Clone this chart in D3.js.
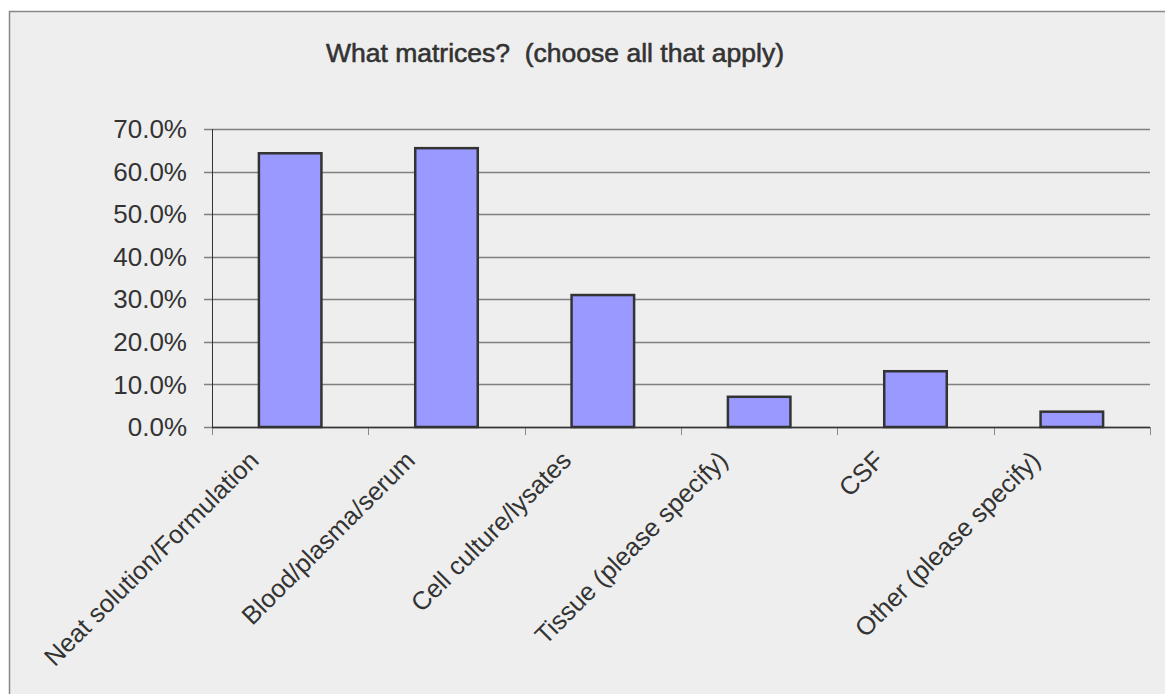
<!DOCTYPE html>
<html>
<head>
<meta charset="utf-8">
<script src="https://cdn.jsdelivr.net/npm/d3@7"></script>
<style>
  body { margin: 0; background: #fff; }
  text { font-family: "Liberation Sans", Arial, sans-serif; fill: #333; }
</style>
</head>
<body>
<div id="chart"></div>
<script>
// data
var categories = ["Neat solution/Formulation", "Blood/plasma/serum", "Cell culture/lysates",
                  "Tissue (please specify)", "CSF", "Other (please specify)"];
var values = [64.3, 65.5, 31.0, 7.1, 13.1, 3.6];
var yTicks = [0, 10, 20, 30, 40, 50, 60, 70];
var title = "What matrices?  (choose all that apply)";

var W = 1165, H = 694;
var margin = {top: 129, right: 15, bottom: 267, left: 212},
    width = W - margin.left - margin.right,
    height = H - margin.top - margin.bottom;

var root = d3.select("#chart")
  .append("svg")
    .attr("width", W)
    .attr("height", H);

// panel background + border
root.append("rect")
  .attr("x", 9.5).attr("y", 11.5)
  .attr("width", W).attr("height", H)
  .attr("fill", "#eeeeee")
  .attr("stroke", "#888")
  .attr("stroke-width", 1.5);

root.append("text")
  .attr("x", 555)
  .attr("y", 62)
  .attr("text-anchor", "middle")
  .style("font-size", "26.5px")
  .style("white-space", "pre")
  .style("stroke", "#333").style("stroke-width", 0.6)
  .text(title);

var svg = root.append("g")
  .attr("transform", `translate(${margin.left}, ${margin.top})`);

var x = d3.scaleBand()
  .range([0, width])
  .domain(categories)
  .paddingInner(0.6)
  .paddingOuter(0.3);

var xTick = d3.scalePoint()
  .range([0, width])
  .domain(d3.range(categories.length + 1));

var y = d3.scaleLinear()
  .domain([0, 70])
  .range([height, 0]);

// gridlines + y ticks
svg.append("g")
  .selectAll("line")
  .data(yTicks)
  .join("line")
    .attr("x1", -8)
    .attr("x2", width)
    .attr("y1", d => Math.round(y(d)) + 0.5)
    .attr("y2", d => Math.round(y(d)) + 0.5)
    .attr("stroke", "#808080")
    .attr("stroke-width", 1.3);

svg.append("g")
  .selectAll("text")
  .data(yTicks)
  .join("text")
    .attr("x", -25)
    .attr("y", d => y(d))
    .attr("dy", "0.35em")
    .attr("text-anchor", "end")
    .style("font-size", "26px")
    .text(d => d3.format(".1f")(d) + "%");

// category ticks
svg.append("g")
  .selectAll("line")
  .data(xTick.domain())
  .join("line")
    .attr("x1", d => Math.round(xTick(d)) + 0.5)
    .attr("x2", d => Math.round(xTick(d)) + 0.5)
    .attr("y1", height)
    .attr("y2", height + 8)
    .attr("stroke", "#888");

// axis lines
svg.append("line")
  .attr("x1", 0.5).attr("x2", 0.5)
  .attr("y1", 0).attr("y2", height)
  .attr("stroke", "#333");
svg.append("line")
  .attr("x1", 0).attr("x2", width)
  .attr("y1", height + 0.5).attr("y2", height + 0.5)
  .attr("stroke", "#333")
  .attr("stroke-width", 1.5);

// bars
svg.selectAll("mybar")
  .data(values)
  .join("rect")
    .attr("x", (d, i) => x(categories[i]))
    .attr("y", d => y(d))
    .attr("width", x.bandwidth())
    .attr("height", d => height - y(d))
    .attr("fill", "#9999ff")
    .attr("stroke", "#333")
    .attr("stroke-width", 2.5);

// x labels
svg.append("g")
  .selectAll("text")
  .data(categories)
  .join("text")
    .attr("transform", d => `translate(${x(d) + x.bandwidth() / 2 - 30}, ${height + 35})rotate(-45)`)
    .attr("text-anchor", "end")
    .style("font-size", "25.5px")
    .text(d => d);
</script>
</body>
</html>
